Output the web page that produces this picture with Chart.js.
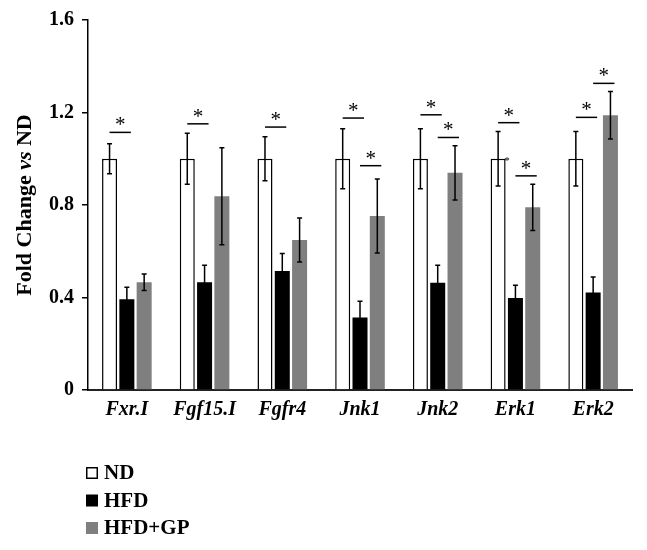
<!DOCTYPE html>
<html>
<head>
<meta charset="utf-8">
<script src="https://cdn.jsdelivr.net/npm/chart.js@4.4.1/dist/chart.umd.min.js"></script>
<style>
  html, body { margin: 0; padding: 0; background: #ffffff; }
  #chart { display: block; }
</style>
</head>
<body>
<canvas id="chart" width="647" height="550"></canvas>
<script>
// Gene labels along the x axis
const genes = ['Fxr.I', 'Fgf15.I', 'Fgfr4', 'Jnk1', 'Jnk2', 'Erk1', 'Erk2'];

// Fold change means and error bars per group
const ndValues = [1, 1, 1, 1, 1, 1, 1];
const ndErrors = [0.065, 0.11, 0.095, 0.13, 0.13, 0.118, 0.118];
const hfdValues = [0.392, 0.466, 0.515, 0.314, 0.464, 0.398, 0.422];
const hfdErrors = [0.052, 0.073, 0.075, 0.07, 0.075, 0.055, 0.067];
const gpValues = [0.466, 0.838, 0.649, 0.752, 0.939, 0.79, 1.188];
const gpErrors = [0.036, 0.21, 0.095, 0.16, 0.117, 0.1, 0.103];

// Significance marks: gene index, left group, right group, line height
const sigGene = [0, 1, 2, 3, 3, 4, 4, 5, 5, 6, 6];
const sigFrom = [0, 0, 0, 0, 1, 0, 1, 0, 1, 0, 1];
const sigTo = [1, 1, 1, 1, 2, 1, 2, 1, 2, 1, 2];
const sigLevel = [1.114, 1.151, 1.137, 1.176, 0.97, 1.19, 1.092, 1.156, 0.926, 1.179, 1.326];

const yTicks = [0, 0.4, 0.8, 1.2, 1.6];

const SERIF = '"Liberation Serif", "Times New Roman", serif';

/**
 * Draws error bars, significance lines and asterisks over the bars
 */
const annotations = {
  id: 'annotations',
  afterDatasetsDraw(chart) {
    const ctx = chart.ctx;
    const y = chart.scales.y;
    const errors = chart.data.datasets.map(d => d.errors);

    ctx.save();
    ctx.strokeStyle = '#000';
    ctx.lineWidth = 1.5;

    // Error bars
    chart.data.datasets.forEach((ds, di) => {
      const meta = chart.getDatasetMeta(di);
      meta.data.forEach((bar, i) => {
        const top = y.getPixelForValue(ds.data[i] + errors[di][i]);
        const bottom = y.getPixelForValue(ds.data[i] - errors[di][i]);
        ctx.beginPath();
        ctx.moveTo(bar.x, top);
        ctx.lineTo(bar.x, bottom);
        ctx.moveTo(bar.x - 2.5, top);
        ctx.lineTo(bar.x + 2.5, top);
        ctx.moveTo(bar.x - 2.5, bottom);
        ctx.lineTo(bar.x + 2.5, bottom);
        ctx.stroke();
      });
    });

    // Significance lines and stars
    ctx.fillStyle = '#000';
    ctx.font = '21px ' + SERIF;
    ctx.textAlign = 'center';
    ctx.textBaseline = 'alphabetic';
    sigGene.forEach((g, k) => {
      const x1 = chart.getDatasetMeta(sigFrom[k]).data[g].x;
      const x2 = chart.getDatasetMeta(sigTo[k]).data[g].x + 4;
      const ly = y.getPixelForValue(sigLevel[k]);
      ctx.beginPath();
      ctx.moveTo(x1, ly);
      ctx.lineTo(x2, ly);
      ctx.stroke();
      ctx.fillText('*', (x1 + x2) / 2, ly - 1);
    });

    // Small stray star next to the Erk1 ND bar
    const erkNd = chart.getDatasetMeta(0).data[5];
    ctx.font = '11px ' + SERIF;
    ctx.fillText('*', erkNd.x + 9, y.getPixelForValue(1.0) + 5);
    ctx.restore();
  },

  afterDraw(chart) {
    const ctx = chart.ctx;
    const area = chart.chartArea;
    ctx.save();

    // Y axis title with italic "vs"
    const parts = [
      { text: 'Fold Change ', font: 'bold 22px ' + SERIF },
      { text: 'vs', font: 'italic bold 22px ' + SERIF },
      { text: ' ND', font: 'bold 22px ' + SERIF }
    ];
    let total = 0;
    parts.forEach(p => { ctx.font = p.font; p.w = ctx.measureText(p.text).width; total += p.w; });
    ctx.translate(25, (area.top + area.bottom) / 2);
    ctx.rotate(-Math.PI / 2);
    ctx.fillStyle = '#000';
    ctx.textBaseline = 'middle';
    ctx.textAlign = 'left';
    let x = -total / 2;
    parts.forEach(p => { ctx.font = p.font; ctx.fillText(p.text, x, 0); x += p.w; });
    ctx.setTransform(1, 0, 0, 1, 0, 0);

    // Vertical legend under the chart
    const rows = [473, 500.5, 528];
    chart.data.datasets.forEach((ds, i) => {
      const cy = rows[i];
      ctx.fillStyle = ds.backgroundColor;
      ctx.fillRect(86, cy - 6, 12, 12);
      if (ds.borderWidth) {
        ctx.strokeStyle = '#000';
        ctx.lineWidth = 1.5;
        ctx.strokeRect(86.75, cy - 5.25, 10.5, 10.5);
      }
      ctx.fillStyle = '#000';
      ctx.font = 'bold 21px ' + SERIF;
      ctx.textBaseline = 'middle';
      ctx.fillText(ds.label, 104, cy + 1);
    });
    ctx.restore();
  }
};

const barShape = { categoryPercentage: 0.668, barPercentage: 0.867 };

new Chart(document.getElementById('chart'), {
  type: 'bar',
  data: {
    labels: genes,
    datasets: [
      { label: 'ND', data: ndValues, errors: ndErrors, backgroundColor: '#ffffff',
        borderColor: '#000000', borderWidth: 1.5, borderSkipped: 'bottom', ...barShape },
      { label: 'HFD', data: hfdValues, errors: hfdErrors, backgroundColor: '#000000',
        borderWidth: 0, ...barShape },
      { label: 'HFD+GP', data: gpValues, errors: gpErrors, backgroundColor: '#7f7f7f',
        borderWidth: 0, ...barShape }
    ]
  },
  options: {
    responsive: false,
    animation: false,
    layout: { padding: { left: 41, right: 15, top: 12, bottom: 128 } },
    plugins: {
      legend: { display: false },
      tooltip: { enabled: false }
    },
    scales: {
      x: {
        grid: { display: false },
        border: { display: true, color: '#222', width: 2 },
        ticks: {
          color: '#000',
          padding: 0,
          font: { family: SERIF, size: 20, weight: 'bold', style: 'italic' }
        }
      },
      y: {
        min: 0,
        max: 1.6,
        afterBuildTicks: axis => { axis.ticks = yTicks.map(v => ({ value: v })); },
        grid: { drawOnChartArea: false, drawTicks: true, tickLength: 6, color: '#000', lineWidth: 1.5 },
        border: { display: true, color: '#000', width: 1.5 },
        ticks: {
          color: '#000',
          padding: 8,
          font: { family: SERIF, size: 20, weight: 'bold' },
          callback: v => (v === 0 ? '0' : v.toFixed(1))
        }
      }
    }
  },
  plugins: [annotations]
});
</script>
</body>
</html>
